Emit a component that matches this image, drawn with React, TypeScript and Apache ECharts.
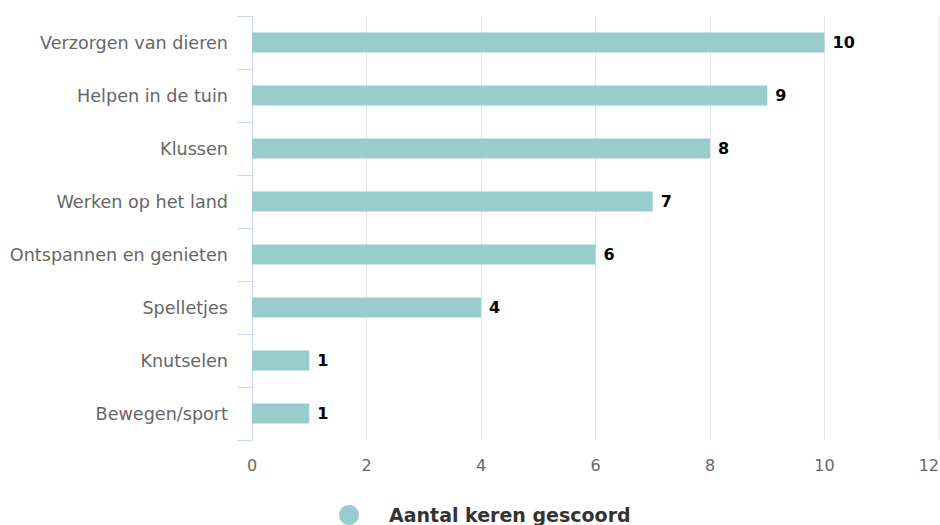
import React, { useEffect, useRef } from "react";
import * as echarts from "echarts";

const categories = [
  "Verzorgen van dieren",
  "Helpen in de tuin",
  "Klussen",
  "Werken op het land",
  "Ontspannen en genieten",
  "Spelletjes",
  "Knutselen",
  "Bewegen/sport",
];
const values = [10, 9, 8, 7, 6, 4, 1, 1];
const seriesName = "Aantal keren gescoord";

export default function App() {
  const ref = useRef<HTMLDivElement>(null);
  useEffect(() => {
    if (!ref.current) return;
    document.body.style.margin = "0";
    document.body.style.overflow = "hidden";
    const chart = echarts.init(ref.current, null, { renderer: "svg", width: 940, height: 525 });
    const font = "DejaVu Sans";
    chart.setOption({
      animation: false,
      textStyle: { fontFamily: font },
      grid: {
        left: 252,
        right: 1,
        top: 16,
        bottom: 85,
        containLabel: false,
        outerBoundsMode: "none",
      },
      legend: {
        data: [{ name: seriesName, icon: "circle" }],
        left: 334,
        top: 500,
        itemWidth: 20,
        itemHeight: 20,
        textStyle: {
          fontFamily: font,
          fontSize: 19,
          fontWeight: "bold",
          color: "#333333",
          padding: [0, 0, 0, 25],
        },
      },
      xAxis: {
        type: "value",
        min: 0,
        max: 12,
        interval: 2,
        axisLine: { show: false },
        axisTick: { show: false },
        splitLine: { show: true, lineStyle: { color: "#e6e6e6", width: 1 } },
        axisLabel: {
          color: "#666666",
          fontSize: 16,
          margin: 17,
          fontFamily: font,
          alignMaxLabel: "right",
        },
      },
      yAxis: {
        type: "category",
        data: categories,
        inverse: true,
        boundaryGap: true,
        axisLine: { show: true, lineStyle: { color: "#ccd6eb", width: 1 } },
        axisTick: { show: true, length: 15, lineStyle: { color: "#ccd6eb" } },
        axisLabel: {
          color: "#666666",
          fontSize: 17.6,
          margin: 24,
          fontFamily: font,
          padding: [3, 0, 0, 0],
        },
        splitLine: { show: false },
      },
      series: [
        {
          name: seriesName,
          type: "bar",
          data: values,
          barWidth: 20,
          itemStyle: { color: "#99cccc" },
          label: {
            show: true,
            position: "right",
            distance: 8,
            color: "#000000",
            fontWeight: "bold",
            fontSize: 16,
            fontFamily: font,
          },
        },
      ],
    });
    return () => chart.dispose();
  }, []);
  return (
    <div
      ref={ref}
      style={{ position: "absolute", left: 0, top: 0, width: 940, height: 525 }}
    />
  );
}
